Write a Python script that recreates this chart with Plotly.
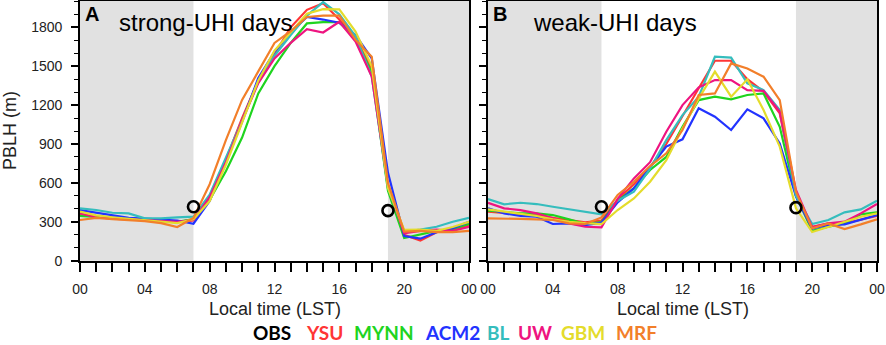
import plotly.graph_objects as go

W, H = 886, 345

hours = list(range(25))
x_tickvals = [0, 4, 8, 12, 16, 20, 24]
x_ticktext = ["00", "04", "08", "12", "16", "20", "00"]
y_tickvals = [0, 300, 600, 900, 1200, 1500, 1800]

schemes = ["YSU", "MYNN", "ACM2", "BL", "UW", "GBM", "MRF"]
colors = {"OBS": "#000000", "YSU": "#ff3535", "MYNN": "#1fd41f", "ACM2": "#2233ff",
          "BL": "#35bdbd", "UW": "#ee1480", "GBM": "#e4dc2c", "MRF": "#f27f2a"}

# strong-UHI days (panel A), hourly 00..24 LST
strong_YSU  = [352, 340, 330, 325, 315, 305, 300, 310, 500, 780, 1100, 1390, 1590, 1800, 1935, 1985, 1860, 1720, 1480, 560, 200, 155, 220, 240, 270]
strong_MYNN = [345, 335, 330, 325, 320, 310, 300, 320, 470, 690, 950, 1290, 1500, 1680, 1830, 1840, 1840, 1710, 1450, 540, 175, 205, 230, 245, 285]
strong_ACM2 = [390, 370, 345, 330, 325, 320, 310, 285, 460, 760, 1070, 1410, 1610, 1760, 1880, 1860, 1835, 1740, 1560, 680, 190, 170, 220, 250, 300]
strong_BL   = [404, 391, 370, 365, 327, 327, 334, 340, 510, 790, 1080, 1380, 1580, 1740, 1890, 1995, 1900, 1730, 1420, 560, 225, 240, 262, 300, 330]
strong_UW   = [365, 335, 325, 320, 315, 305, 300, 315, 490, 760, 1080, 1370, 1560, 1680, 1786, 1760, 1843, 1690, 1420, 580, 211, 230, 240, 230, 260]
strong_GBM  = [378, 350, 335, 325, 315, 300, 290, 320, 460, 740, 1060, 1390, 1620, 1760, 1905, 1940, 1939, 1767, 1500, 560, 237, 240, 230, 260, 300]
strong_MRF  = [314, 330, 320, 315, 305, 290, 260, 330, 590, 930, 1240, 1460, 1680, 1770, 1880, 1890, 1890, 1703, 1573, 600, 224, 230, 220, 220, 230]
strong_OBS_h = [7, 19]
strong_OBS  = [416, 386]

# weak-UHI days (panel B)
weak_YSU  = [378, 370, 360, 350, 330, 310, 295, 310, 470, 590, 720, 900, 1110, 1330, 1542, 1542, 1400, 1305, 1136, 520, 262, 288, 288, 319, 345]
weak_MYNN = [386, 375, 365, 365, 352, 319, 283, 298, 460, 560, 700, 800, 1033, 1239, 1265, 1244, 1278, 1290, 1033, 500, 231, 262, 288, 357, 373]
weak_ACM2 = [404, 365, 345, 339, 283, 288, 275, 293, 450, 558, 720, 880, 936, 1175, 1111, 1008, 1167, 1098, 905, 494, 249, 275, 280, 314, 352]
weak_BL   = [476, 435, 447, 437, 416, 396, 378, 357, 463, 532, 710, 930, 1123, 1265, 1573, 1566, 1368, 1316, 1162, 500, 283, 314, 373, 396, 463]
weak_UW   = [447, 404, 390, 365, 327, 288, 262, 257, 477, 635, 760, 995, 1200, 1337, 1393, 1393, 1316, 1310, 1149, 545, 257, 288, 301, 365, 437]
weak_GBM  = [396, 380, 360, 345, 319, 300, 290, 283, 391, 480, 609, 776, 1020, 1250, 1458, 1265, 1399, 1162, 880, 404, 221, 262, 300, 339, 365]
weak_MRF  = [327, 322, 322, 319, 314, 288, 283, 334, 507, 609, 730, 828, 1008, 1278, 1290, 1522, 1483, 1419, 1239, 530, 249, 288, 244, 280, 319]
weak_OBS_h = [7, 19]
weak_OBS  = [416, 409]

strong = {"YSU": strong_YSU, "MYNN": strong_MYNN, "ACM2": strong_ACM2, "BL": strong_BL,
          "UW": strong_UW, "GBM": strong_GBM, "MRF": strong_MRF}
weak = {"YSU": weak_YSU, "MYNN": weak_MYNN, "ACM2": weak_ACM2, "BL": weak_BL,
        "UW": weak_UW, "GBM": weak_GBM, "MRF": weak_MRF}

FONT = "Liberation Sans, Arial, Helvetica, sans-serif"

def px(x):
    return x / W

def py(y):
    return 1 - y / H

fig = go.Figure()

for xa, ya, data, oh, ov in [("x", "y", strong, strong_OBS_h, strong_OBS),
                             ("x2", "y2", weak, weak_OBS_h, weak_OBS)]:
    for s in schemes:
        fig.add_trace(go.Scatter(x=hours, y=data[s], mode="lines", xaxis=xa, yaxis=ya,
                                 line=dict(color=colors[s], width=2.2), showlegend=False,
                                 hoverinfo="skip"))
    fig.add_trace(go.Scatter(x=oh, y=ov, mode="markers", xaxis=xa, yaxis=ya, showlegend=False,
                             marker=dict(symbol="circle-open", size=11, color="black",
                                         line=dict(width=2.6, color="black"))))

# night shading
shapes = []
for xr, yr in [("x", "y domain"), ("x2", "y2 domain")]:
    for x0, x1 in [(0, 7), (19, 24)]:
        shapes.append(dict(type="rect", xref=xr, yref=yr, x0=x0, x1=x1, y0=0, y1=1,
                           fillcolor="#e1e1e1", line=dict(width=0), layer="below"))

ydom = [py(260.7), py(1)]

def xaxis_cfg(dom, anchor):
    return dict(domain=dom, anchor=anchor, range=[0, 24], tickmode="array", tickvals=x_tickvals,
                ticktext=x_ticktext, ticks="outside", ticklen=9, tickwidth=1.6,
                tickcolor="black", showline=True, mirror=True, linecolor="black",
                linewidth=1.8, showgrid=False, zeroline=False, automargin=False,
                tickfont=dict(family=FONT, size=14, color="#222"), ticklabelstandoff=6,
                minor=dict(tickmode="linear", tick0=0, dtick=1, ticks="outside", ticklen=9,
                           tickwidth=1.6, tickcolor="black", showgrid=False))

def yaxis_cfg(anchor, labels):
    return dict(domain=ydom, anchor=anchor, range=[0, 2003], tickmode="array",
                tickvals=y_tickvals, ticks="outside", ticklen=7, tickwidth=1.6,
                tickcolor="black", showline=True, mirror=True, linecolor="black",
                linewidth=1.8, showgrid=False, zeroline=False, showticklabels=labels,
                automargin=False,
                tickfont=dict(family=FONT, size=14, color="#222"), ticklabelstandoff=6,
                minor=dict(tickmode="linear", tick0=0, dtick=100, ticks="outside", ticklen=4,
                           tickwidth=1.3, tickcolor="black", showgrid=False))

annotations = [
    dict(text="<b>A</b>", x=px(83), y=py(14), xanchor="left", yanchor="middle",
         font=dict(family=FONT, size=20, color="black")),
    dict(text="strong-UHI days", x=px(117), y=py(23), xanchor="left", yanchor="middle",
         font=dict(family=FONT, size=24, color="black")),
    dict(text="<b>B</b>", x=px(491), y=py(14), xanchor="left", yanchor="middle",
         font=dict(family=FONT, size=20, color="black")),
    dict(text="weak-UHI days", x=px(531), y=py(23), xanchor="left", yanchor="middle",
         font=dict(family=FONT, size=24, color="black")),
    dict(text="Local time (LST)", x=px(274.5), y=py(309), xanchor="center", yanchor="middle",
         font=dict(family=FONT, size=18, color="#222")),
    dict(text="Local time (LST)", x=px(682.5), y=py(309), xanchor="center", yanchor="middle",
         font=dict(family=FONT, size=18, color="#222")),
    dict(text="PBLH (m)", x=px(10), y=py(131), xanchor="center", yanchor="middle",
         textangle=-90, font=dict(family=FONT, size=18, color="#222")),
]

legend_names = ["OBS"] + schemes
legend_centers = [272, 324, 383.5, 452.5, 499, 535, 582.5, 636.5]
for name, cx in zip(legend_names, legend_centers):
    annotations.append(dict(text="<b>" + name + "</b>", x=px(cx), y=0,
                            xanchor="center", yanchor="bottom", borderpad=0,
                            font=dict(family="Lato, Open Sans, sans-serif", size=19,
                                      color=colors[name])))

for a in annotations:
    a.update(xref="paper", yref="paper", showarrow=False)

fig.update_layout(
    width=W, height=H, margin=dict(l=0, r=0, t=0, b=0, autoexpand=False),
    paper_bgcolor="white", plot_bgcolor="white",
    xaxis=xaxis_cfg([px(80), px(469)], "y"),
    xaxis2=xaxis_cfg([px(488), px(877)], "y2"),
    yaxis=yaxis_cfg("x", True),
    yaxis2=yaxis_cfg("x2", False),
    shapes=shapes, annotations=annotations, showlegend=False,
)

fig.write_html("out.html", config={"displayModeBar": False},
               post_script="document.body.style.margin='0';document.body.style.padding='0';")
